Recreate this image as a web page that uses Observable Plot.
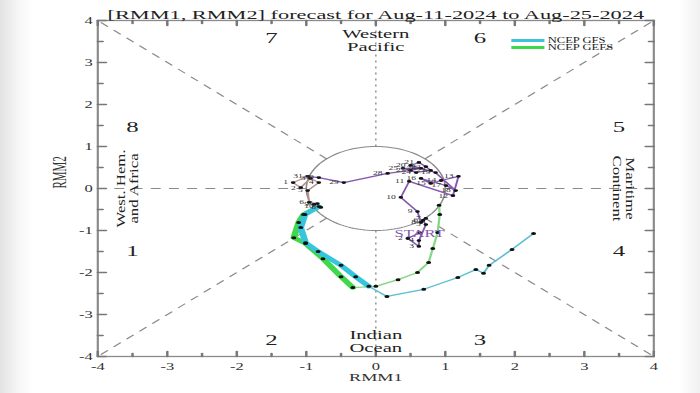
<!DOCTYPE html>
<html><head><meta charset="utf-8">
<script src="https://cdn.jsdelivr.net/npm/d3@7"></script>
<script src="https://cdn.jsdelivr.net/npm/@observablehq/plot@0.6"></script>
<style>
html,body{margin:0;padding:0;overflow:hidden;}
body{background:linear-gradient(to right,#e2e2e2 0px,#f6f6f6 18px,#fff 34px,#fff 680px,#f0f0f0 700px);width:700px;height:393px;}
#wrap{position:relative;width:423px;height:393px;transform:scaleX(1.6548);transform-origin:0 0;}
#legend{position:absolute;left:309px;top:36.5px;font-family:"Liberation Serif",serif;font-size:7.6px;color:#222;}
#legend .row{display:flex;align-items:center;height:7px;}
#legend .sw{display:inline-block;width:20px;height:3px;margin-right:2px;}
</style></head>
<body><div id="wrap"><div id="legend"></div></div>
<script>
// ---------- data ----------
const title = "[RMM1, RMM2] forecast for Aug-11-2024 to Aug-25-2024";
const majorTicks = [-4, -3, -2, -1, 0, 1, 2, 3, 4];
const minorTicks = [-3.5, -2.5, -1.5, -0.5, 0.5, 1.5, 2.5, 3.5];

// observed (July: purple, August: rosy brown)
const julRmm1 = [0.63,0.46,0.62,0.62,0.72,0.68,0.72,0.65,0.60,0.36,0.48,1.11,1.19,0.94,0.79,0.65,1.01,1.15,0.86,0.50,0.62,0.72,0.79,0.58,0.39,0.65,0.50,0.17,-0.46,-0.82,-0.98];
const julRmm2 = [-1.05,-1.19,-1.38,-1.24,-0.86,-0.76,-0.71,-0.81,-0.55,-0.21,0.17,-0.17,0.29,0.19,0.12,0.24,0.07,-0.05,0.38,0.55,0.62,0.52,0.43,0.38,0.48,0.48,0.43,0.36,0.14,0.26,0.29];
const augRmm1 = [-1.19,-1.08,-0.94,-0.82,-0.98,-0.96,-0.84,-0.79,-0.89,-0.82];
const augRmm2 = [0.14,0.02,0.24,0.14,-0.05,-0.33,-0.36,-0.45,-0.38,-0.43];

// forecasts, day 0..15 (week 1 thick, week 2 thin)
const gfsRmm1  = [-0.82,-1.02,-1.08,-1.01,-0.83,-0.50,-0.29,-0.10,0.16,0.69,1.18,1.44,1.55,1.63,1.96,2.27];
const gfsRmm2  = [-0.43,-0.62,-0.93,-1.29,-1.50,-1.83,-2.10,-2.33,-2.57,-2.40,-2.12,-1.93,-2.02,-1.83,-1.45,-1.07];
const gefsRmm1 = [-0.82,-1.04,-1.11,-1.18,-1.01,-0.76,-0.50,-0.33,0.00,0.32,0.60,0.76,0.82,0.89,0.92,0.91];
const gefsRmm2 = [-0.43,-0.62,-0.81,-1.17,-1.31,-1.67,-2.10,-2.36,-2.33,-2.17,-2.00,-1.76,-1.43,-1.05,-0.62,-0.40];

const phaseNumbers = [
  {t: "7", x: -1.5, y: 3.57}, {t: "6", x: 1.5, y: 3.57},
  {t: "8", x: -3.5, y: 1.45}, {t: "5", x: 3.5, y: 1.45},
  {t: "1", x: -3.5, y: -1.5}, {t: "4", x: 3.5, y: -1.5},
  {t: "2", x: -1.5, y: -3.6}, {t: "3", x: 1.5, y: -3.6}
];
const regionNames = [
  {t: "Western\nPacific", x: 0, y: 3.52},
  {t: "Indian\nOcean", x: 0, y: -3.64}
];
const sideNames = [
  {t: "West. Hem.\nand Africa", x: -3.58, y: 0, r: -90},
  {t: "Maritime\nContinent", x: 3.57, y: 0, r: 90}
];
const boundaryAngles = [0, 45, 90, 135, 180, 225, 270, 315];
const series = [
  {name: "NCEP GFS", color: "#3fc0dc"},
  {name: "NCEP GEFS", color: "#3ed84a"}
];

// ---------- derived tables ----------
const pts = (xs, ys) => xs.map((x, i) => ({x, y: ys[i], day: i}));
const jul = julRmm1.map((x, i) => ({x, y: julRmm2[i], day: i + 1}));
const aug = augRmm1.map((x, i) => ({x, y: augRmm2[i], day: i + 1}));
const augLine = [jul[jul.length - 1], ...aug];
const gfs = pts(gfsRmm1, gfsRmm2), gefs = pts(gefsRmm1, gefsRmm2);
const wk1 = a => a.filter(d => d.day <= 7), wk2 = a => a.filter(d => d.day >= 7);
const unitCircle = d3.range(0, 361, 3).map(a => ({x: Math.cos(a * Math.PI / 180), y: Math.sin(a * Math.PI / 180)}));
const boundaries = boundaryAngles.map(a => {
  const c = Math.cos(a * Math.PI / 180), s = Math.sin(a * Math.PI / 180);
  const k = 4 / Math.max(Math.abs(c), Math.abs(s));
  return {x1: c, y1: s, x2: c * k, y2: s * k, vert: a === 90 || a === 270};
});

const tickShape = {draw(ctx, l) { ctx.moveTo(0, 0); ctx.lineTo(0, -l); }};
const frameTicks = (values, len) => [
  Plot.vector(values, {x: d => d, frameAnchor: "bottom", rotate: 0, length: len, anchor: "start", shape: tickShape, stroke: "#777"}),
  Plot.vector(values, {x: d => d, frameAnchor: "top", rotate: 180, length: len, anchor: "start", shape: tickShape, stroke: "#777"}),
  Plot.vector(values, {y: d => d, frameAnchor: "left", rotate: 90, length: len, anchor: "start", shape: tickShape, stroke: "#777"}),
  Plot.vector(values, {y: d => d, frameAnchor: "right", rotate: -90, length: len, anchor: "start", shape: tickShape, stroke: "#777"})
];

const purple = "#8659b0", rosy = "#bb8f8f";
const font = "Liberation Serif";

const chart = Plot.plot({
  width: 423, height: 393,
  marginLeft: 58.6, marginRight: 28.4, marginTop: 20, marginBottom: 37,
  x: {domain: [-4, 4]},
  y: {domain: [-4, 4]},
  style: {fontFamily: font, background: "transparent", color: "#333", overflow: "visible"},
  marks: [
    Plot.frame({fill: "white", stroke: "none"}),
    Plot.link(boundaries.filter(d => !d.vert), {x1: "x1", y1: "y1", x2: "x2", y2: "y2", stroke: "#8a8a8a", strokeWidth: 1, strokeDasharray: "6,5"}),
    Plot.link(boundaries.filter(d => d.vert), {x1: "x1", y1: "y1", x2: "x2", y2: "y2", stroke: "#9a9a9a", strokeWidth: 1, strokeDasharray: "2,4"}),
    Plot.line(unitCircle, {x: "x", y: "y", stroke: "#8a8a8a", strokeWidth: 1}),
    Plot.frame({stroke: "#8a8a8a", strokeWidth: 1.3}),
    ...frameTicks(majorTicks, 5),
    ...frameTicks(minorTicks, 3),
    Plot.axisX(majorTicks, {tickSize: 0, tickPadding: 6, fontSize: 10, label: null, tickFormat: d => d}),
    Plot.axisY(majorTicks, {tickSize: 0, tickPadding: 3, fontSize: 10, label: null, tickFormat: d => d}),
    Plot.text(["RMM1"], {frameAnchor: "bottom", dy: 24, fontSize: 11, fill: "#333"}),
    Plot.text(["RMM2"], {frameAnchor: "left", dx: -23, rotate: -90, fontSize: 11, fill: "#333"}),
    Plot.text([title], {frameAnchor: "top", dy: -11, fontSize: 13.5, fill: "#222"}),
    Plot.text(phaseNumbers, {x: "x", y: "y", text: "t", fontSize: 15, fill: "#222"}),
    Plot.text(regionNames, {x: "x", y: "y", text: "t", fontSize: 12.5, lineHeight: 1.05, fill: "#222"}),
    Plot.text(sideNames, {x: "x", y: "y", text: "t", rotate: "r", fontSize: 12.5, lineHeight: 1.05, fill: "#222", className: "side-names"}),
    // observed
    Plot.line(jul, {x: "x", y: "y", stroke: purple, strokeWidth: 1.2}),
    Plot.line(augLine, {x: "x", y: "y", stroke: rosy, strokeWidth: 1.2}),
    // forecasts
    Plot.line(wk1(gefs), {x: "x", y: "y", stroke: "#3ed84a", strokeWidth: 4}),
    Plot.line(wk2(gefs), {x: "x", y: "y", stroke: "#86d886", strokeWidth: 1.4}),
    Plot.line(wk1(gfs), {x: "x", y: "y", stroke: "#35c6dd", strokeWidth: 4}),
    Plot.line(wk2(gfs), {x: "x", y: "y", stroke: "#5cbfd6", strokeWidth: 1.3}),
    Plot.dot([...gefs.slice(1), ...gfs.slice(1)], {x: "x", y: "y", r: 1.5, fill: "#111"}),
    Plot.dot([...jul, ...aug], {x: "x", y: "y", r: 1.4, fill: "#111"}),
    Plot.text([...jul.slice(1), ...aug], {x: "x", y: "y", text: d => String(d.day), dx: -3, textAnchor: "end", fontSize: 5.8, fill: "#333"}),
    Plot.text([jul[0]], {x: "x", y: "y", text: () => "START", dy: 1, fontSize: 10, fill: purple})
  ]
});
document.getElementById("wrap").appendChild(chart);

// side labels: longer along the text, thinner across (as in the reference picture)
d3.select(chart).selectAll(".side-names text").each(function() {
  const t = this.getAttribute("transform") || "";
  this.setAttribute("transform", t + " scale(1.34,0.6)");
});

const legend = d3.select("#legend");
series.forEach(s => {
  const row = legend.append("div").attr("class", "row");
  row.append("span").attr("class", "sw").style("background", s.color);
  row.append("span").text(s.name);
});
</script>
</body></html>
